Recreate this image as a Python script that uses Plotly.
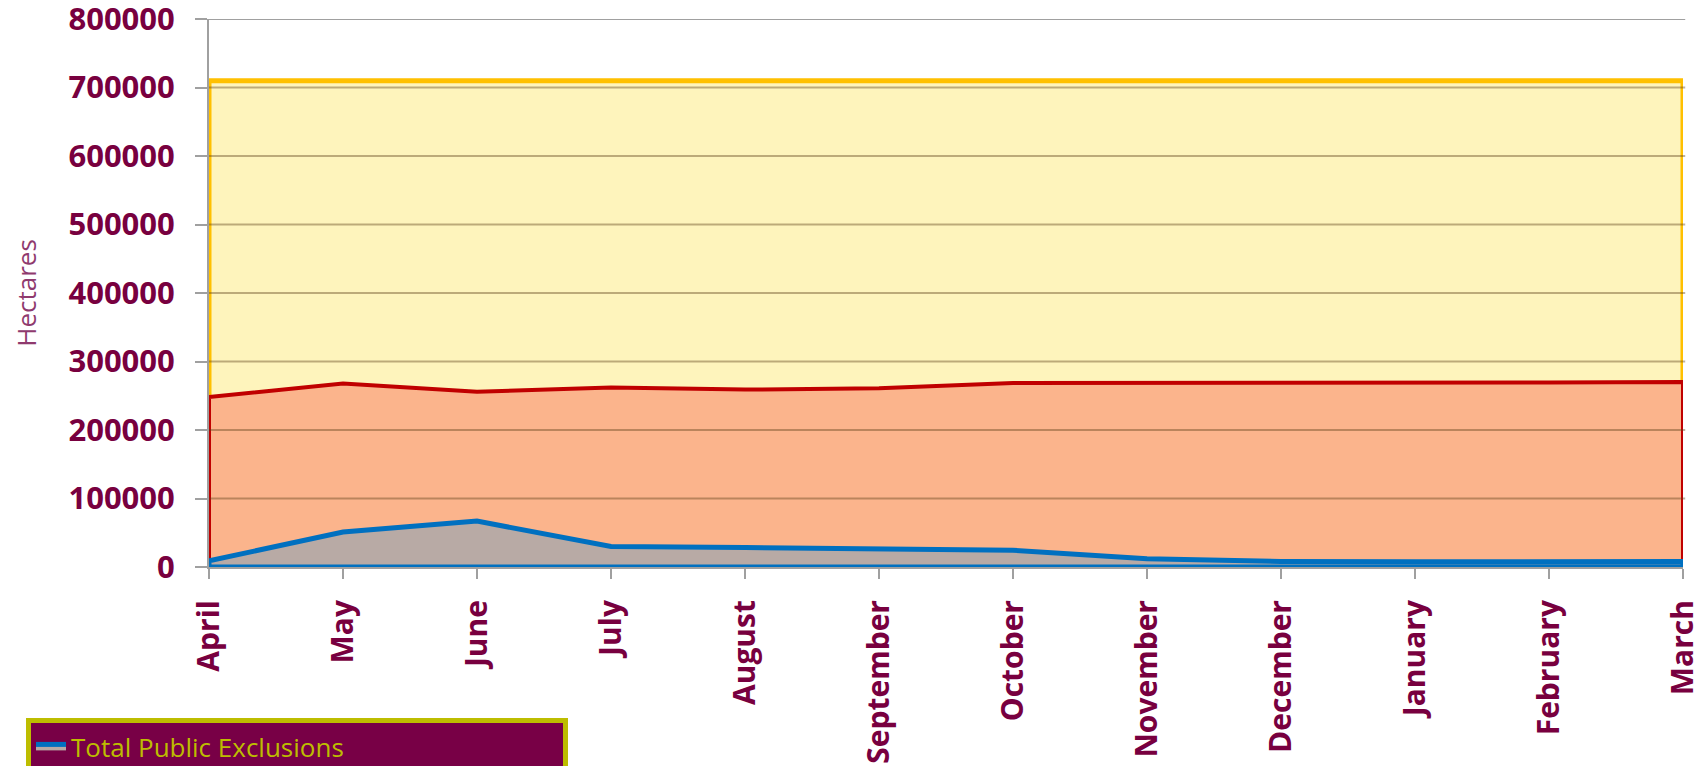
import plotly.graph_objects as go

months = ["April", "May", "June", "July", "August", "September",
          "October", "November", "December", "January", "February", "March"]

total_area = [710000, 710000, 710000, 710000, 710000, 710000,
              710000, 710000, 710000, 710000, 710000, 710000]
total_exclusions = [248000, 268000, 256000, 262000, 259000, 261000,
                    268500, 268500, 268500, 268800, 269500, 270000]
public_exclusions = [9000, 51000, 67000, 30000, 28500, 27000,
                     24500, 12000, 8000, 7500, 7500, 8000]

y_ticks = [0, 100000, 200000, 300000, 400000, 500000, 600000, 700000, 800000]

# name, values, line colour, fill colour, line width, shown in legend
series = [
    ("Total Area", total_area, "#FFC000", "#FEF4BC", 5, False),
    ("Total Exclusions", total_exclusions, "#C00000", "#FBB48C", 4, False),
    ("Total Public Exclusions", public_exclusions, "#0070C0", "#B8AAA5", 5, True),
]

LABEL = "#78003F"
GRID = "#A0A0A0"

fig = go.Figure()
for name, vals, line_c, fill_c, lw, in_legend in series:
    xs = months + [months[-1], months[0], months[0]]
    ys = vals + [0, 0, vals[0]]
    fig.add_trace(go.Scatter(
        x=xs, y=ys, name=name, mode="lines", fill="toself",
        fillcolor=fill_c, line=dict(color=line_c, width=lw),
        hoverinfo="skip", showlegend=in_legend,
    ))

# horizontal gridlines: seen through the filled areas, plain grey above them
shapes = []
for v in y_ticks:
    if v == 0:
        continue
    inside = v < max(total_area)
    shapes.append(dict(
        type="line", xref="paper", x0=0, x1=1.0015, yref="y", y0=v, y1=v,
        layer="above",
        line=dict(color="rgba(90,60,20,0.4)" if inside else GRID, width=2)))

W, H = 1694, 758
L, R, T, B = 201, 19, 11, 199
pw, ph = W - L - R, H - T - B

fig.update_layout(
    width=W, height=H,
    margin=dict(l=L, r=R, t=T, b=B, autoexpand=False),
    paper_bgcolor="white", plot_bgcolor="white",
    showlegend=True,
    legend=dict(
        orientation="h",
        x=(18 - L) / pw, y=(T + ph - 710) / ph,
        xanchor="left", yanchor="top",
        bgcolor="#780046", bordercolor="#BDBD00", borderwidth=5,
        font=dict(family="Open Sans", size=26, color="#BDBD00"),
        entrywidth=487, entrywidthmode="pixels",
    ),
    shapes=shapes,
    xaxis=dict(
        type="category", categoryorder="array", categoryarray=months,
        range=[0, len(months) - 1],
        tickangle=-90, ticks="outside", ticklen=10, tickwidth=2, tickcolor=GRID,
        showgrid=False, showline=True, linecolor=GRID, linewidth=2,
        ticklabelstandoff=9, layer="below traces",
        tickfont=dict(family="Open Sans", size=30, color=LABEL, weight="bold"),
    ),
    yaxis=dict(
        range=[0, 800000], tickvals=y_ticks, ticktext=[str(v) for v in y_ticks],
        ticks="outside", ticklen=12, tickwidth=2, tickcolor=GRID,
        showgrid=False, zeroline=False,
        showline=True, linecolor=GRID, linewidth=2, layer="below traces",
        ticklabelstandoff=14, ticklabeloverflow="allow",
        tickfont=dict(family="Open Sans", size=31, color=LABEL, weight="bold"),
        title=dict(text="Hectares", standoff=25,
                   font=dict(family="Open Sans", size=26, color="#8F3A6E")),
    ),
)

fig.write_html("out.html")
